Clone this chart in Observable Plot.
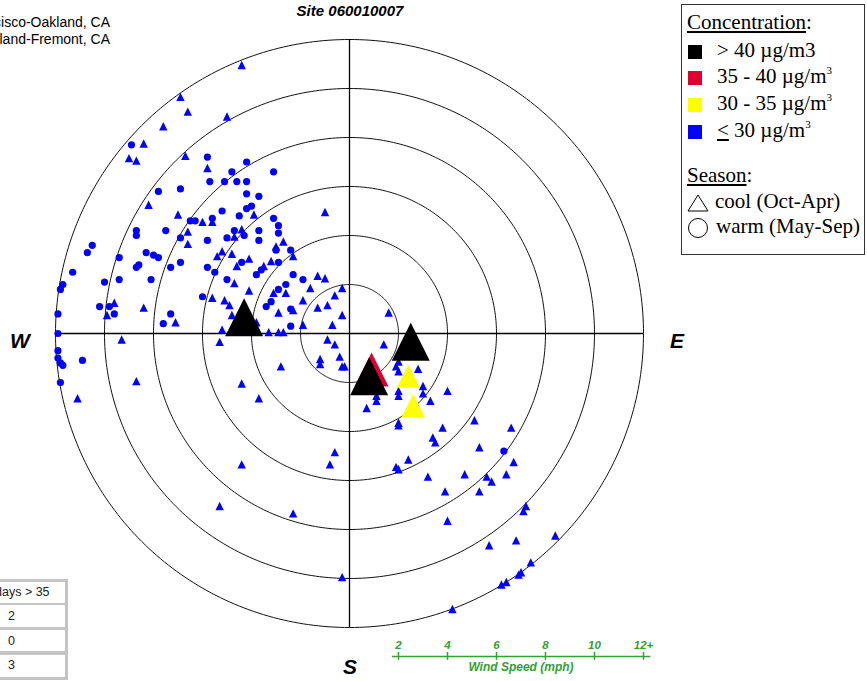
<!DOCTYPE html>
<html><head><meta charset="utf-8">
<script src="https://cdn.jsdelivr.net/npm/d3@7"></script>
<script src="https://cdn.jsdelivr.net/npm/@observablehq/plot@0.6"></script>
<style>
body{margin:0;background:#fff;}
#wrap{position:relative;width:867px;height:681px;overflow:hidden;background:#fff;font-family:"Liberation Sans",Arial,sans-serif;}
#wrap svg{position:absolute;left:0;top:0;}
.abs{position:absolute;white-space:nowrap;z-index:2;}
.ser{font-family:"Liberation Serif","Times New Roman",serif;font-size:21px;line-height:24px;color:#000;}
.dir{font-weight:bold;font-style:italic;font-size:21px;line-height:24px;}
sup{font-size:11px;vertical-align:0;position:relative;top:-9px;}
</style></head>
<body><div id="wrap"></div>
<script>
// ---------------- data ----------------
const siteTitle = "Site 060010007";
const areaLines = ["San Jose-San Francisco-Oakland, CA", "San Francisco-Oakland-Fremont, CA"];
const ringSpeeds = [2, 4, 6, 8, 10, 12];            // mph
const windTicks = [2, 4, 6, 8, 10, 12];
const windTickLabels = ["2", "4", "6", "8", "10", "12+"];
const concLabels = ["> 40 µg/m3", "35 - 40 µg/m<sup>3</sup>", "30 - 35 µg/m<sup>3</sup>", "<u>&lt;</u> 30 µg/m<sup>3</sup>"];
const concColors = ["#000000", "#e0002d", "#ffff00", "#0000ff"];
const seasonLabels = ["cool (Oct-Apr)", "warm (May-Sep)"];
const tableHeader = "days > 35";
const tableValues = ["2", "0", "3"];

// wind vector components [east mph, north mph]
// cool season, concentration <= 30
const coolLow = [
 [-4.4,10.9],[-6.9,9.6],[-6.6,9.0],[-5.0,8.8],[-7.6,8.4],[-8.4,7.7],[-9.0,7.1],[-8.7,7.0],[-6.7,7.2],[-5.8,6.7],
 [-8.2,5.2],[-7.0,4.8],[-3.9,4.8],[-1.0,4.9],[-6.0,4.5],[-5.6,4.5],[-6.6,4.1],[-4.7,3.9],[-4.4,4.2],[-3.0,3.5],
 [-2.7,3.7],[-6.6,3.6],[-5.2,3.3],[-5.4,3.1],[-4.8,3.2],[-2.3,3.1],[-4.6,2.7],[-4.1,3.0],[-3.5,2.7],[-3.2,2.9],
 [-4.1,1.7],[-1.3,2.3],[-1.0,2.2],[-2.6,1.6],[-3.1,1.6],[-1.9,1.3],[-1.6,1.8],[-0.6,1.5],[-5.6,1.4],[-5.1,1.3],
 [-4.9,1.1],[-4.7,2.0],[-2.9,0.8],[-9.6,1.2],[-9.9,0.7],[-8.4,1.0],[-7.1,0.4],[-4.8,0.7],[-0.9,1.1],[-1.9,0.3],
 [-0.7,0.3],[-5.2,0.1],[-3.3,0.0],[-2.9,0.0],[-2.7,0.0],[-3.8,0.4],[-0.3,1.8],[-0.3,0.7],[1.6,0.8],[-2.3,0.9],
 [-1.3,1.0],
 [-9.3,-0.3],[-5.3,-0.4],[-0.9,-0.3],[-0.6,-0.5],[-8.7,-2.0],[-11.1,-2.7],[-2.8,-1.4],[-1.2,-1.1],[-1.2,-1.3],[-0.4,-1.0],
 [-0.3,-1.4],[-0.2,-1.4],[-4.4,-2.1],[-3.7,-2.7],[-0.6,-4.9],[-0.8,-5.4],[-4.4,-5.4],[-5.3,-7.1],[-2.3,-7.4],[-0.3,-10.0],
 [1.4,-0.5],[2.0,-1.2],[1.9,-1.4],[2.0,-1.6],[2.8,-1.5],[3.0,-2.2],[2.0,-2.4],[2.0,-2.6],[3.0,-2.5],[3.3,-2.8],
 [4.0,-2.4],[1.1,-2.6],[1.1,-2.8],[0.7,-3.1],[2.0,-3.7],[2.0,-3.8],[5.1,-3.6],[3.8,-3.9],[6.6,-3.9],[3.4,-4.3],
 [3.5,-4.5],[5.3,-4.7],[6.7,-5.3],[2.4,-5.2],[1.9,-5.5],[2.0,-5.6],[3.2,-5.9],[4.7,-5.8],[5.6,-5.9],[5.8,-6.1],
 [6.4,-5.8],[3.9,-6.5],[5.3,-6.5],[7.2,-7.1],[7.1,-7.3],[4.0,-7.7],[5.7,-8.7],[6.8,-8.5],[8.4,-8.3],[7.4,-9.4],
 [7.0,-9.8],[6.9,-9.9],[6.4,-10.2],[6.2,-10.3],[4.2,-11.3]
];
// warm season, concentration <= 30
const warmLow = [
 [-8.9,7.7],[-5.8,7.2],[-4.2,7.0],[-4.8,6.6],[-3.1,6.6],[-5.7,6.2],[-5.1,6.2],[-4.6,6.2],[-4.2,6.2],[-7.8,5.8],
 [-6.9,5.9],[-4.2,5.7],[-3.7,5.6],[-4.0,5.2],[-4.2,5.1],[-5.2,5.0],[-4.5,4.8],[-3.1,4.7],[-6.5,4.6],[-6.3,4.6],
 [-5.6,4.7],[-2.9,4.4],[-8.7,4.2],[-8.7,4.0],[-7.5,4.2],[-4.7,4.2],[-4.3,4.0],[-3.7,4.2],[-2.9,4.1],[-5.0,3.9],
 [-6.9,3.9],[-5.8,3.8],[-3.7,3.8],[-3.0,3.4],[-10.5,3.6],[-10.7,3.3],[-8.3,3.3],[-8.0,3.2],[-7.8,3.1],[-9.4,3.1],
 [-2.4,3.4],[-8.7,2.7],[-8.6,2.8],[-7.3,2.7],[-6.9,2.9],[-5.8,2.7],[-5.5,2.5],[-4.4,2.9],[-3.8,2.4],[-3.6,2.6],
 [-2.9,2.9],[-11.3,2.5],[-11.7,2.0],[-11.8,1.8],[-9.4,2.2],[-10.0,2.1],[-8.1,2.2],[-5.0,2.2],[-2.3,2.4],[-1.9,2.2],
 [-2.6,2.0],[-2.9,1.8],[-3.2,1.3],[-6.0,1.5],[-3.4,1.1],[-2.4,1.0],[-11.9,0.8],[-10.2,1.1],[-9.8,1.1],[-9.6,0.8],
 [-7.3,0.8],[-7.6,0.4],[-2.4,0.3],[-11.9,0.0],[-11.9,-0.7],[-11.9,-1.0],[-11.8,-1.2],[-11.7,-1.3],[-10.9,-1.1],[-11.8,-2.0],
 [6.3,-4.8]
];
// high-concentration days (all cool season)
const highEast  = [2.4, 2.6, 0.9, -4.3, 2.5, 0.8];
const highNorth = [-1.9, -3.1, -1.7, 0.4, -0.6, -2.0];
const highLevel = [2, 2, 1, 0, 0, 0];   // index into concLabels

// ---------------- build ----------------
const green = "#33a033";
const wrap = document.getElementById("wrap");

const tri = {
  draw(ctx, size) {
    const r = Math.sqrt(size / Math.PI);
    ctx.moveTo(0, -4 * r / 3);
    ctx.lineTo(r, 2 * r / 3);
    ctx.lineTo(-r, 2 * r / 3);
    ctx.closePath();
  }
};

const ringPts = [];
for (const s of ringSpeeds) {
  for (let a = 0; a <= 360; a += 1) {
    const t = a * Math.PI / 180;
    ringPts.push({ring: s, x: s * Math.sin(t), y: s * Math.cos(t)});
  }
}
const cool = coolLow.map(([e, n]) => ({east: e, north: n}));
const warm = warmLow.map(([e, n]) => ({east: e, north: n}));
const high = highEast.map((e, i) => ({east: e, north: highNorth[i], level: highLevel[i]}));
const sizeByLevel = [19, 17, 11.5];

const marks = [
  Plot.line(ringPts, {x: "x", y: "y", z: "ring", stroke: "#111", strokeWidth: 1}),
  Plot.ruleX([0], {y1: -12, y2: 12, stroke: "#000", strokeWidth: 1.3}),
  Plot.ruleY([0], {x1: -12, x2: 12, stroke: "#000", strokeWidth: 1.3}),
  Plot.dot(warm, {x: "east", y: "north", r: 3.6, fill: concColors[3]}),
  Plot.dot(cool, {x: "east", y: "north", symbol: tri, r: 4.2, fill: concColors[3]})
];
for (const lv of [2, 1, 0]) {
  marks.push(Plot.dot(high.filter(d => d.level === lv), {x: "east", y: "north", symbol: tri, r: sizeByLevel[lv], fill: concColors[lv]}));
}
// wind speed key (shares the radial x scale)
marks.push(
  Plot.ruleY([-13.18], {x1: 1.75, x2: 12.3, stroke: green, strokeWidth: 1.5}),
  Plot.ruleX(windTicks, {y1: -13.02, y2: -13.34, stroke: green, strokeWidth: 1.5}),
  Plot.text(windTicks, {x: d => d, y: -12.73, text: (d, i) => windTickLabels[i], fill: green, fontWeight: "bold", fontStyle: "italic", fontSize: 11.5, fontFamily: "Liberation Sans"}),
  Plot.text(["Wind Speed (mph)"], {x: 7, y: -13.6, text: d => d, fill: green, fontWeight: "bold", fontStyle: "italic", fontSize: 12, fontFamily: "Liberation Sans"})
);

const chart = Plot.plot({
  width: 867, height: 681,
  marginLeft: 0, marginRight: 0, marginTop: 0, marginBottom: 0,
  x: {domain: [-12, 12], range: [55, 643], axis: null},
  y: {domain: [-12, 12], range: [627, 39], axis: null},
  style: {background: "white", overflow: "visible"},
  marks
});
wrap.appendChild(chart);

function add(html, css, cls) {
  const d = document.createElement("div");
  d.className = "abs " + (cls || "");
  d.innerHTML = html;
  Object.assign(d.style, css);
  wrap.appendChild(d);
  return d;
}
// title & area names
add(siteTitle, {left: "250px", width: "200px", textAlign: "center", top: "2px", fontSize: "15px", lineHeight: "18px", fontWeight: "bold", fontStyle: "italic"});
areaLines.forEach((t, i) => add(t, {right: (867 - 110) + "px", top: (13.5 + i * 17) + "px", fontSize: "14px", lineHeight: "17px"}));
// directions
add("W", {left: "10px", top: "329px"}, "dir");
add("E", {left: "670px", top: "329px"}, "dir");
add("S", {left: "343px", top: "655px"}, "dir");

// legend box
add("", {left: "681px", top: "4px", width: "182px", height: "249px", border: "1.5px solid #333", background: "#fff", zIndex: 1});
add("<u>Concentration</u>:", {left: "687px", top: "10px"}, "ser");
const rowTops = [37.6, 64.2, 90.9, 117.6];
concLabels.forEach((t, i) => {
  add("", {left: "688px", top: (rowTops[i] + 7) + "px", width: "14px", height: "14px", background: concColors[i]});
  add(t, {left: "717px", top: rowTops[i] + "px"}, "ser");
});
add("<u>Season</u>:", {left: "687px", top: "162.6px"}, "ser");
add(seasonLabels[0], {left: "715px", top: "189px"}, "ser");
add(seasonLabels[1], {left: "716px", top: "214px"}, "ser");
add('<svg width="22" height="18"><path d="M11,1 L21,17 L1,17 Z" fill="none" stroke="#000" stroke-width="1"/></svg>', {left: "687px", top: "194px", lineHeight: "0"});
add('<svg width="22" height="22"><circle cx="11" cy="11" r="9.5" fill="none" stroke="#000" stroke-width="1"/></svg>', {left: "687px", top: "217px", lineHeight: "0"});

// bottom-left table
add("", {left: "-5px", top: "579px", width: "73px", height: "101px", background: "#c4c4c4"});
const cellTops = [582, 605, 630, 655];
const cellH = [21, 22, 21, 22];
cellTops.forEach((t, i) => add("", {left: "-5px", top: t + "px", width: "70px", height: cellH[i] + "px", background: "#fff"}));
add(tableHeader, {left: "-5px", top: "585px", fontSize: "12.5px", lineHeight: "14px", color: "#222"});
tableValues.forEach((v, i) => add(v, {left: "8px", top: (609 + i * 24.5) + "px", fontSize: "12.5px", lineHeight: "14px", color: "#222"}));
</script>
</body></html>
